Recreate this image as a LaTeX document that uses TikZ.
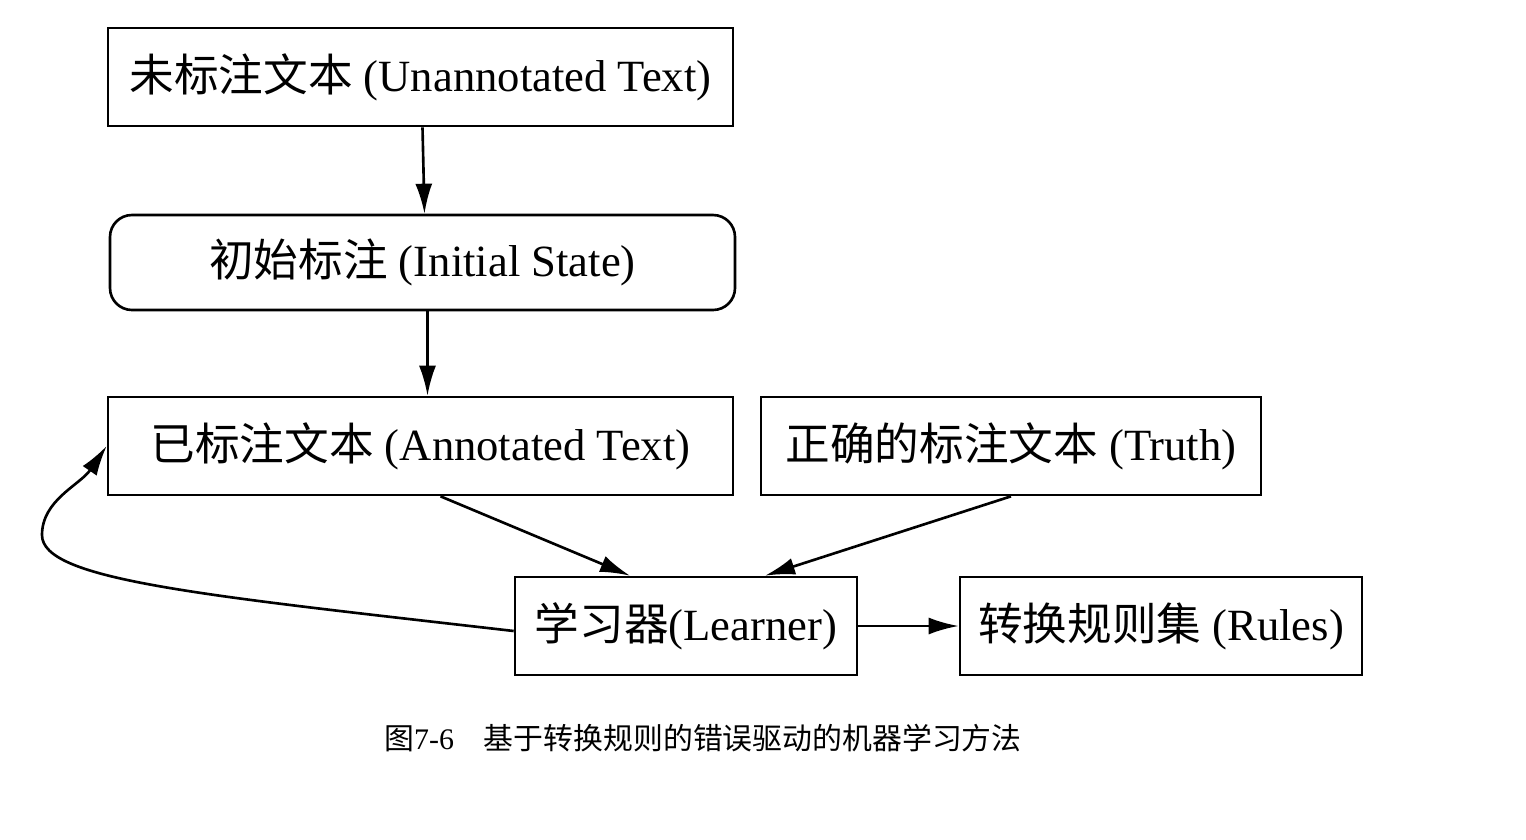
\documentclass[tikz,border=0pt]{standalone}
\usepackage{fontspec}
\setmainfont{Liberation Serif}
\newfontfamily\cjk{Noto Sans CJK SC}
\usepackage{tikz}
\usetikzlibrary{arrows.meta}

\tikzset{
  box/.style={draw, line width=0.75pt, minimum height=0.98cm, inner sep=0pt},
  roundbox/.style={box, rounded corners=0.22cm},
  arr/.style={line width=0.75pt, -{Latex[length=3mm,width=1.7mm]}}
}

\begin{document}
\begin{tikzpicture}[font=\fontsize{12.7}{14}\selectfont]
  \useasboundingbox (0,0) rectangle (15.26,-8.4);
  % Boxes
  \node[box, minimum width=6.25cm] (untext) at (4.205,-0.77) {{\cjk 未标注文本} (Unannotated Text)};
  \node[roundbox, minimum width=6.25cm, minimum height=0.95cm] (init) at (4.225,-2.625) {{\cjk 初始标注} (Initial State)};
  \node[box, minimum width=6.25cm] (antext) at (4.205,-4.46) {{\cjk 已标注文本} (Annotated Text)};
  \node[box, minimum width=5.0cm] (truth) at (10.11,-4.46) {{\cjk 正确的标注文本} (Truth)};
  \node[box, minimum width=3.42cm] (learner) at (6.86,-6.26) {{\cjk 学习器}(Learner)};
  \node[box, minimum width=4.02cm] (rules) at (11.61,-6.26) {{\cjk 转换规则集} (Rules)};
  % Flow
  \draw[arr] ([xshift=0.02cm]untext.south) -- ([xshift=0.02cm]init.north);
  \draw[arr] ([xshift=0.05cm]init.south) -- ([xshift=0.07cm]antext.north);
  \draw[arr] ([xshift=0.2cm]antext.south) -- ([xshift=-0.56cm]learner.north);
  \draw[arr] (truth.south) -- ([xshift=0.79cm]learner.north);
  \draw[arr] (learner) -- (rules);
  % Feedback loop
  \coordinate (turn) at (0.42,-5.35);
  \draw[arr] ([yshift=-0.05cm]learner.west) .. controls (2.0,-5.95) and (0.42,-5.8) .. (turn)
    .. controls (0.42,-5.0) and (0.8,-4.85) .. (antext.west);
  % Caption
  \node[font=\fontsize{8.5}{10}\selectfont] (caption) at (7.03,-7.38)
    {{\cjk 图}7-6\hspace{0.3cm}{\cjk 基于转换规则的错误驱动的机器学习方法}};
\end{tikzpicture}
\end{document}
